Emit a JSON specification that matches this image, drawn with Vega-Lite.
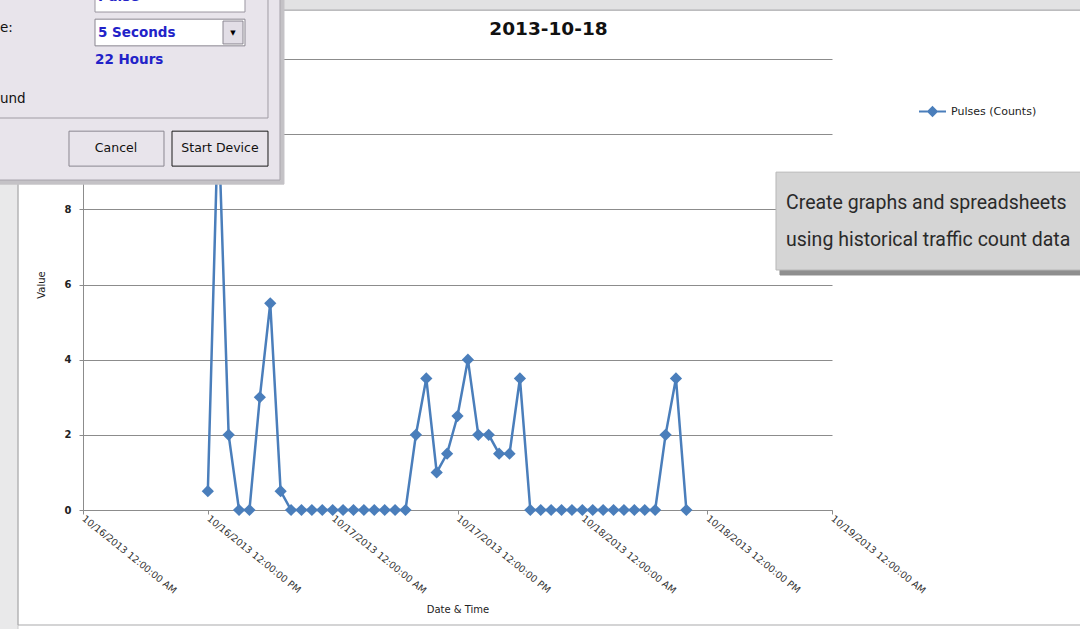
{
  "$schema": "https://vega.github.io/schema/vega-lite/v6.json",
  "width": 749,
  "height": 451,
  "autosize": {"type": "none"},
  "padding": {"left": 83, "top": 59, "right": 248, "bottom": 119},
  "background": "#ffffff",
  "title": {
    "text": "2013-10-18",
    "frame": "group",
    "anchor": "middle",
    "dx": 91,
    "offset": -64,
    "baseline": "alphabetic",
    "font": "DejaVu Sans",
    "fontSize": 18.5,
    "fontWeight": "bold",
    "color": "#111111"
  },
  "config": {
    "view": {"stroke": null},
    "axis": {"labelFont": "DejaVu Sans", "titleFont": "DejaVu Sans", "titleFontWeight": "normal"}
  },
  "datasets": {
    "pulses": [
      {"time": "2013-10-16T12:00:00", "value": 0.5, "series": "Pulses (Counts)"},
      {"time": "2013-10-16T13:00:00", "value": 10.5, "series": "Pulses (Counts)"},
      {"time": "2013-10-16T14:00:00", "value": 2, "series": "Pulses (Counts)"},
      {"time": "2013-10-16T15:00:00", "value": 0, "series": "Pulses (Counts)"},
      {"time": "2013-10-16T16:00:00", "value": 0, "series": "Pulses (Counts)"},
      {"time": "2013-10-16T17:00:00", "value": 3, "series": "Pulses (Counts)"},
      {"time": "2013-10-16T18:00:00", "value": 5.5, "series": "Pulses (Counts)"},
      {"time": "2013-10-16T19:00:00", "value": 0.5, "series": "Pulses (Counts)"},
      {"time": "2013-10-16T20:00:00", "value": 0, "series": "Pulses (Counts)"},
      {"time": "2013-10-16T21:00:00", "value": 0, "series": "Pulses (Counts)"},
      {"time": "2013-10-16T22:00:00", "value": 0, "series": "Pulses (Counts)"},
      {"time": "2013-10-16T23:00:00", "value": 0, "series": "Pulses (Counts)"},
      {"time": "2013-10-17T00:00:00", "value": 0, "series": "Pulses (Counts)"},
      {"time": "2013-10-17T01:00:00", "value": 0, "series": "Pulses (Counts)"},
      {"time": "2013-10-17T02:00:00", "value": 0, "series": "Pulses (Counts)"},
      {"time": "2013-10-17T03:00:00", "value": 0, "series": "Pulses (Counts)"},
      {"time": "2013-10-17T04:00:00", "value": 0, "series": "Pulses (Counts)"},
      {"time": "2013-10-17T05:00:00", "value": 0, "series": "Pulses (Counts)"},
      {"time": "2013-10-17T06:00:00", "value": 0, "series": "Pulses (Counts)"},
      {"time": "2013-10-17T07:00:00", "value": 0, "series": "Pulses (Counts)"},
      {"time": "2013-10-17T08:00:00", "value": 2, "series": "Pulses (Counts)"},
      {"time": "2013-10-17T09:00:00", "value": 3.5, "series": "Pulses (Counts)"},
      {"time": "2013-10-17T10:00:00", "value": 1, "series": "Pulses (Counts)"},
      {"time": "2013-10-17T11:00:00", "value": 1.5, "series": "Pulses (Counts)"},
      {"time": "2013-10-17T12:00:00", "value": 2.5, "series": "Pulses (Counts)"},
      {"time": "2013-10-17T13:00:00", "value": 4, "series": "Pulses (Counts)"},
      {"time": "2013-10-17T14:00:00", "value": 2, "series": "Pulses (Counts)"},
      {"time": "2013-10-17T15:00:00", "value": 2, "series": "Pulses (Counts)"},
      {"time": "2013-10-17T16:00:00", "value": 1.5, "series": "Pulses (Counts)"},
      {"time": "2013-10-17T17:00:00", "value": 1.5, "series": "Pulses (Counts)"},
      {"time": "2013-10-17T18:00:00", "value": 3.5, "series": "Pulses (Counts)"},
      {"time": "2013-10-17T19:00:00", "value": 0, "series": "Pulses (Counts)"},
      {"time": "2013-10-17T20:00:00", "value": 0, "series": "Pulses (Counts)"},
      {"time": "2013-10-17T21:00:00", "value": 0, "series": "Pulses (Counts)"},
      {"time": "2013-10-17T22:00:00", "value": 0, "series": "Pulses (Counts)"},
      {"time": "2013-10-17T23:00:00", "value": 0, "series": "Pulses (Counts)"},
      {"time": "2013-10-18T00:00:00", "value": 0, "series": "Pulses (Counts)"},
      {"time": "2013-10-18T01:00:00", "value": 0, "series": "Pulses (Counts)"},
      {"time": "2013-10-18T02:00:00", "value": 0, "series": "Pulses (Counts)"},
      {"time": "2013-10-18T03:00:00", "value": 0, "series": "Pulses (Counts)"},
      {"time": "2013-10-18T04:00:00", "value": 0, "series": "Pulses (Counts)"},
      {"time": "2013-10-18T05:00:00", "value": 0, "series": "Pulses (Counts)"},
      {"time": "2013-10-18T06:00:00", "value": 0, "series": "Pulses (Counts)"},
      {"time": "2013-10-18T07:00:00", "value": 0, "series": "Pulses (Counts)"},
      {"time": "2013-10-18T08:00:00", "value": 2, "series": "Pulses (Counts)"},
      {"time": "2013-10-18T09:00:00", "value": 3.5, "series": "Pulses (Counts)"},
      {"time": "2013-10-18T10:00:00", "value": 0, "series": "Pulses (Counts)"}
    ],
    "window": [
      {"part": "leftstrip", "t1": "2013-10-15T15:03:36", "t2": "2013-10-15T17:45:07", "v1": 13.7, "v2": -3.46},
      {"part": "topstrip", "t1": "2013-10-15T17:45:07", "t2": "2013-10-20T00:48:00", "v1": 13.7, "v2": 13.3},
      {"part": "chartframe", "t1": "2013-10-15T17:45:07", "t2": "2013-10-20T00:48:00", "v1": 13.3, "v2": -3.06}
    ],
    "panels": [
      {"part": "dshadow", "t1": "2013-10-15T15:47:00", "t2": "2013-10-16T19:19:10", "v1": 13.7, "v2": 8.67},
      {"part": "body", "t1": "2013-10-15T15:32:30", "t2": "2013-10-16T18:56:10", "v1": 13.7, "v2": 8.78},
      {"part": "group", "t1": "2013-10-15T15:32:30", "t2": "2013-10-16T17:47:00", "v1": 13.7, "v2": 10.43},
      {"part": "textbox", "t1": "2013-10-16T01:09:13", "t2": "2013-10-16T15:34:20", "v1": 13.7, "v2": 13.25},
      {"part": "dropdown", "t1": "2013-10-16T01:09:13", "t2": "2013-10-16T15:34:20", "v1": 13.06, "v2": 12.35},
      {"part": "arrow", "t1": "2013-10-16T13:27:30", "t2": "2013-10-16T15:22:50", "v1": 13.01, "v2": 12.4},
      {"part": "cancel", "t1": "2013-10-15T22:39:15", "t2": "2013-10-16T07:47:10", "v1": 10.08, "v2": 9.15},
      {"part": "start", "t1": "2013-10-16T08:33:20", "t2": "2013-10-16T17:47:00", "v1": 10.08, "v2": 9.15},
      {"part": "cshadow", "t1": "2013-10-18T19:00:00", "t2": "2013-10-20T00:48:00", "v1": 8.885, "v2": 6.253},
      {"part": "callout", "t1": "2013-10-18T18:37:00", "t2": "2013-10-20T00:48:00", "v1": 8.99, "v2": 6.386}
    ],
    "notes": [
      {"part": "blue", "label": "Pulse", "t": "2013-10-16T01:26:30", "v": 13.65},
      {"part": "blue", "label": "5 Seconds", "t": "2013-10-16T01:26:30", "v": 12.69},
      {"part": "blue", "label": "22 Hours", "t": "2013-10-16T01:09:13", "v": 11.97},
      {"part": "black", "label": "e:", "t": "2013-10-15T16:01:15", "v": 12.82},
      {"part": "black", "label": "und", "t": "2013-10-15T16:01:15", "v": 10.94},
      {"part": "button", "label": "Cancel", "t": "2013-10-16T03:10:20", "v": 9.63},
      {"part": "button", "label": "Start Device", "t": "2013-10-16T13:10:10", "v": 9.63},
      {"part": "arrowglyph", "label": "▼", "t": "2013-10-16T14:25:08", "v": 12.69},
      {"part": "callout", "label": "Create graphs and spreadsheets", "t": "2013-10-18T19:35:00", "v": 8.169},
      {"part": "callout", "label": "using historical traffic count data", "t": "2013-10-18T19:35:00", "v": 7.184}
    ]
  },
  "layer": [
    {
      "data": {"name": "window"},
      "mark": {"type": "rect", "strokeWidth": 1},
      "encoding": {
        "x": {"field": "t1", "type": "temporal", "title": "Date & Time"},
        "x2": {"field": "t2"},
        "y": {"field": "v1", "type": "quantitative", "title": "Value"},
        "y2": {"field": "v2"},
        "fill": {
          "field": "part",
          "type": "nominal",
          "legend": null,
          "scale": {
            "domain": ["leftstrip", "topstrip", "chartframe", "dshadow", "body", "group", "textbox", "dropdown", "arrow", "cancel", "start", "cshadow", "callout"],
            "range": ["#e9e9ea", "#e2e2e3", "transparent", "#c4c2c6", "#e8e4eb", "#e8e4eb", "#ffffff", "#ffffff", "#e2dee6", "#e8e4eb", "#e8e4eb", "#8f8f8f", "#d5d5d5"]
          }
        },
        "stroke": {
          "field": "part",
          "type": "nominal",
          "legend": null,
          "scale": {
            "domain": ["leftstrip", "topstrip", "chartframe", "dshadow", "body", "group", "textbox", "dropdown", "arrow", "cancel", "start", "cshadow", "callout"],
            "range": ["#c9c9cb", "#d0d0d2", "#a9a9ab", "#c4c2c6", "#a8a4ac", "#a09ca4", "#9a96a0", "#8a8690", "#8a8690", "#8a8690", "#1a1a1a", "#8f8f8f", "#b8b8b8"]
          }
        }
      }
    },
    {
      "data": {"name": "pulses"},
      "mark": {"type": "line", "strokeWidth": 2.5, "color": "#4A7EBB"},
      "encoding": {
        "x": {
          "field": "time",
          "type": "temporal",
          "title": "Date & Time",
          "scale": {"domain": [{"year": 2013, "month": 10, "date": 16, "hours": 0}, {"year": 2013, "month": 10, "date": 19, "hours": 0}]},
          "axis": {
            "values": [
              {"year": 2013, "month": 10, "date": 16, "hours": 0},
              {"year": 2013, "month": 10, "date": 16, "hours": 12},
              {"year": 2013, "month": 10, "date": 17, "hours": 0},
              {"year": 2013, "month": 10, "date": 17, "hours": 12},
              {"year": 2013, "month": 10, "date": 18, "hours": 0},
              {"year": 2013, "month": 10, "date": 18, "hours": 12},
              {"year": 2013, "month": 10, "date": 19, "hours": 0}
            ],
            "format": "%m/%d/%Y %I:%M:%S %p",
            "labelAngle": 39,
            "labelAlign": "left",
            "labelBaseline": "middle",
            "labelFontSize": 9.5,
            "labelColor": "#333333",
            "labelPadding": 3,
            "labelOverlap": false,
            "labelBound": false,
            "labelFlush": false,
            "domainColor": "#8c8c8c",
            "tickColor": "#8c8c8c",
            "tickSize": 4,
            "grid": false,
            "titleFontSize": 10,
            "titleColor": "#222222",
            "titleY": 102,
            "titleBaseline": "alphabetic"
          }
        },
        "y": {
          "field": "value",
          "type": "quantitative",
          "title": "Value",
          "scale": {"domain": [0, 12], "nice": false},
          "axis": {
            "values": [0, 2, 4, 6, 8, 10, 12],
            "labelFontSize": 10,
            "labelFontWeight": 600,
            "labelColor": "#222222",
            "labelPadding": 8,
            "domainColor": "#8c8c8c",
            "tickColor": "#8c8c8c",
            "tickSize": 4,
            "gridColor": "#8c8c8c",
            "gridWidth": 1,
            "titleFontSize": 10,
            "titleColor": "#222222",
            "titlePadding": 11
          }
        },
        "color": {
          "field": "series",
          "type": "nominal",
          "scale": {"range": ["#4A7EBB"]},
          "legend": {
            "title": null,
            "orient": "none",
            "legendX": 835,
            "legendY": 38,
            "symbolType": "M-1,0L1,0M0,-0.32L0.32,0L0,0.32L-0.32,0Z",
            "symbolSize": 729,
            "symbolStrokeWidth": 2,
            "labelFont": "DejaVu Sans",
            "labelFontSize": 11,
            "labelColor": "#222222",
            "labelOffset": 4,
            "encode": {"symbols": {"update": {"fill": {"value": "#4A7EBB"}, "stroke": {"value": "#4A7EBB"}}}}
          }
        }
      }
    },
    {
      "data": {"name": "pulses"},
      "mark": {"type": "point", "shape": "diamond", "filled": true, "size": 150, "color": "#4A7EBB", "opacity": 1},
      "encoding": {
        "x": {"field": "time", "type": "temporal", "title": "Date & Time"},
        "y": {"field": "value", "type": "quantitative", "title": "Value"}
      }
    },
    {
      "data": {"name": "panels"},
      "mark": {"type": "rect", "strokeWidth": 1},
      "encoding": {
        "x": {"field": "t1", "type": "temporal", "title": "Date & Time"},
        "x2": {"field": "t2"},
        "y": {"field": "v1", "type": "quantitative", "title": "Value"},
        "y2": {"field": "v2"},
        "fill": {
          "field": "part",
          "type": "nominal",
          "legend": null,
          "scale": {
            "domain": ["leftstrip", "topstrip", "chartframe", "dshadow", "body", "group", "textbox", "dropdown", "arrow", "cancel", "start", "cshadow", "callout"],
            "range": ["#e9e9ea", "#e2e2e3", "transparent", "#c4c2c6", "#e8e4eb", "#e8e4eb", "#ffffff", "#ffffff", "#e2dee6", "#e8e4eb", "#e8e4eb", "#8f8f8f", "#d5d5d5"]
          }
        },
        "stroke": {
          "field": "part",
          "type": "nominal",
          "legend": null,
          "scale": {
            "domain": ["leftstrip", "topstrip", "chartframe", "dshadow", "body", "group", "textbox", "dropdown", "arrow", "cancel", "start", "cshadow", "callout"],
            "range": ["#c9c9cb", "#d0d0d2", "#a9a9ab", "#c4c2c6", "#a8a4ac", "#a09ca4", "#9a96a0", "#8a8690", "#8a8690", "#8a8690", "#1a1a1a", "#8f8f8f", "#b8b8b8"]
          }
        }
      }
    },
    {
      "data": {"name": "notes"},
      "transform": [{"filter": "datum.part === 'blue'"}],
      "mark": {"type": "text", "align": "left", "baseline": "middle", "font": "DejaVu Sans", "fontSize": 13.5, "fontWeight": "bold", "color": "#2222c8"},
      "encoding": {
        "x": {"field": "t", "type": "temporal", "title": "Date & Time"},
        "y": {"field": "v", "type": "quantitative", "title": "Value"},
        "text": {"field": "label"}
      }
    },
    {
      "data": {"name": "notes"},
      "transform": [{"filter": "datum.part === 'black'"}],
      "mark": {"type": "text", "align": "left", "baseline": "middle", "font": "DejaVu Sans", "fontSize": 13.5, "color": "#111111"},
      "encoding": {
        "x": {"field": "t", "type": "temporal", "title": "Date & Time"},
        "y": {"field": "v", "type": "quantitative", "title": "Value"},
        "text": {"field": "label"}
      }
    },
    {
      "data": {"name": "notes"},
      "transform": [{"filter": "datum.part === 'button'"}],
      "mark": {"type": "text", "align": "center", "baseline": "middle", "font": "DejaVu Sans", "fontSize": 12.5, "color": "#111111"},
      "encoding": {
        "x": {"field": "t", "type": "temporal", "title": "Date & Time"},
        "y": {"field": "v", "type": "quantitative", "title": "Value"},
        "text": {"field": "label"}
      }
    },
    {
      "data": {"name": "notes"},
      "transform": [{"filter": "datum.part === 'arrowglyph'"}],
      "mark": {"type": "text", "align": "center", "baseline": "middle", "font": "DejaVu Sans", "fontSize": 7, "color": "#000000"},
      "encoding": {
        "x": {"field": "t", "type": "temporal", "title": "Date & Time"},
        "y": {"field": "v", "type": "quantitative", "title": "Value"},
        "text": {"field": "label"}
      }
    },
    {
      "data": {"name": "notes"},
      "transform": [{"filter": "datum.part === 'callout'"}],
      "mark": {"type": "text", "align": "left", "baseline": "middle", "font": "Roboto", "fontSize": 19.5, "color": "#2a2a2a"},
      "encoding": {
        "x": {"field": "t", "type": "temporal", "title": "Date & Time"},
        "y": {"field": "v", "type": "quantitative", "title": "Value"},
        "text": {"field": "label"}
      }
    }
  ]
}
